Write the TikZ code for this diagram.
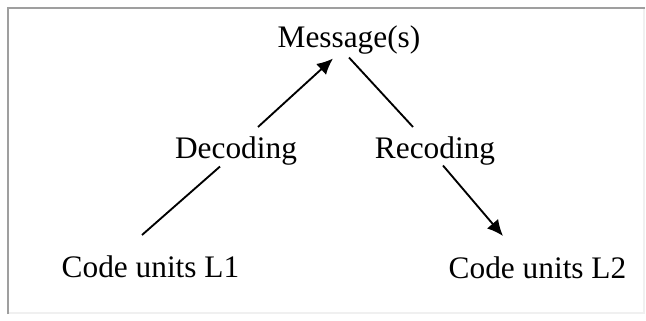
\documentclass[tikz,border=0pt]{standalone}
\usepackage{fontspec}
\setmainfont{Liberation Serif}
\usetikzlibrary{arrows.meta}

\tikzset{
    label/.style={anchor=base, inner sep=0pt, font=\fontsize{23.5}{28}\selectfont},
    link/.style={line width=1.4pt},
    linkarrow/.style={link, -{Latex[length=12pt,width=11pt]}},
}

\begin{document}
\begin{tikzpicture}[x=0.75pt, y=-0.75pt]
    \useasboundingbox (0,0) rectangle (646,321);
    \begin{scope}
        % frame
        \draw[gray!12, line width=1pt] (8,313) -- (644,313) -- (644,8);
        \draw[gray!75, line width=1.5pt] (8,314) -- (8,8) -- (645,8);

        \node[label] (msg) at (349,48) {Message(s)};
        \node[label] (dec) at (236,158) {Decoding};
        \node[label] (rec) at (435,158) {Recoding};
        \node[label] (l1) at (150.5,277) {Code units L1};
        \node[label] (l2) at (537.5,278) {Code units L2};

        \draw[link] ([shift={(-8.5,-20)}]l1.north) -- ([shift={(-16,1.5)}]dec.south);
        \draw[linkarrow] ([shift={(22,-9)}]dec.north) -- ([shift={(-16,3.5)}]msg.south);
        \draw[link] ([shift={(0,2.5)}]msg.south) -- ([shift={(-22,-9)}]rec.north);
        \draw[linkarrow] ([shift={(8,0.5)}]rec.south) -- ([shift={(-34.5,-20)}]l2.north);
    \end{scope}
\end{tikzpicture}
\end{document}
